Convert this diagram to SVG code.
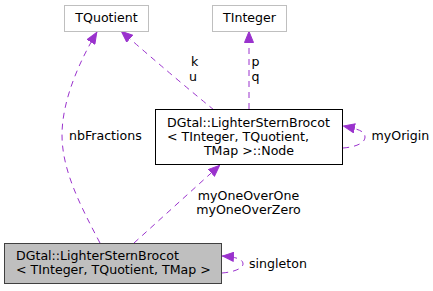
<svg xmlns="http://www.w3.org/2000/svg" width="433" height="291" viewBox="0 0 433 291">
  <style>
    text { font-family: "DejaVu Sans", "Liberation Sans", sans-serif; font-size: 12.6px; fill: #000; }
    .mid { text-anchor: middle; }
    .box { fill: #fff; stroke: #000; stroke-width: 1; }
    .ext { fill: #fff; stroke: #bfbfbf; stroke-width: 1; }
    .cur { fill: #bfbfbf; stroke: #404040; stroke-width: 1; }
    .edge { fill: none; stroke: #9a32cd; stroke-width: 1; stroke-dasharray: 6,5; marker-end: url(#head); }
  </style>
  <defs>
    <marker id="head" viewBox="0 0 12 10" refX="12" refY="5" markerWidth="12" markerHeight="10" orient="auto" markerUnits="userSpaceOnUse">
      <path d="M0.5,0.5 L11.5,5 L0.5,9.5 Z" fill="#9a32cd" stroke="#9a32cd" stroke-width="1"/>
    </marker>
  </defs>
  <rect width="433" height="291" fill="#fff"/>

  <!-- connectors -->
  <g id="edges">
    <path class="edge" d="M100,243 C80,205 62,170 62,135 C62,100 80,60 97,32"/>
    <text x="69" y="140">nbFractions</text>

    <path class="edge" d="M214,110 Q170,74 121,31"/>
    <text><tspan x="191" y="66">k</tspan><tspan x="189" y="80.8">u</tspan></text>

    <path class="edge" d="M249,109 L249,31"/>
    <text><tspan x="251.5" y="66">p</tspan><tspan x="251.5" y="80.8">q</tspan></text>

    <path class="edge" d="M134,243 L220,165"/>
    <text class="mid"><tspan x="248.5" y="200">myOneOverOne</tspan><tspan x="248.5" y="214">myOneOverZero</tspan></text>

    <path class="edge" d="M343,148 C356,147 365,143 365,137 C365,131 358,129 343,126"/>
    <text x="371.5" y="139.5">myOrigin</text>

    <path class="edge" d="M222,273 C235,272 243,268 243,264 C243,259 236,257 222,256"/>
    <text x="249" y="267.5">singleton</text>
  </g>

  <!-- nodes -->
  <g id="tquotient">
    <rect class="ext" x="64.5" y="5.5" width="84" height="26"/>
    <text class="mid" x="106.5" y="22">TQuotient</text>
  </g>

  <g id="tinteger">
    <rect class="ext" x="212.5" y="5.5" width="74" height="26"/>
    <text class="mid" x="249.5" y="22">TInteger</text>
  </g>

  <g id="node">
    <rect class="box" x="155.5" y="109.5" width="187" height="55"/>
    <text x="167" y="126.5">DGtal::LighterSternBrocot</text>
    <text x="167" y="140.5">&lt; TInteger, TQuotient,</text>
    <text class="mid" x="249" y="154.5">TMap &gt;::Node</text>
  </g>

  <g id="lightersternbrocot">
    <rect class="cur" x="4.5" y="243.5" width="217" height="40"/>
    <text x="16" y="260">DGtal::LighterSternBrocot</text>
    <text x="16" y="273.5">&lt; TInteger, TQuotient, TMap &gt;</text>
  </g>
</svg>
